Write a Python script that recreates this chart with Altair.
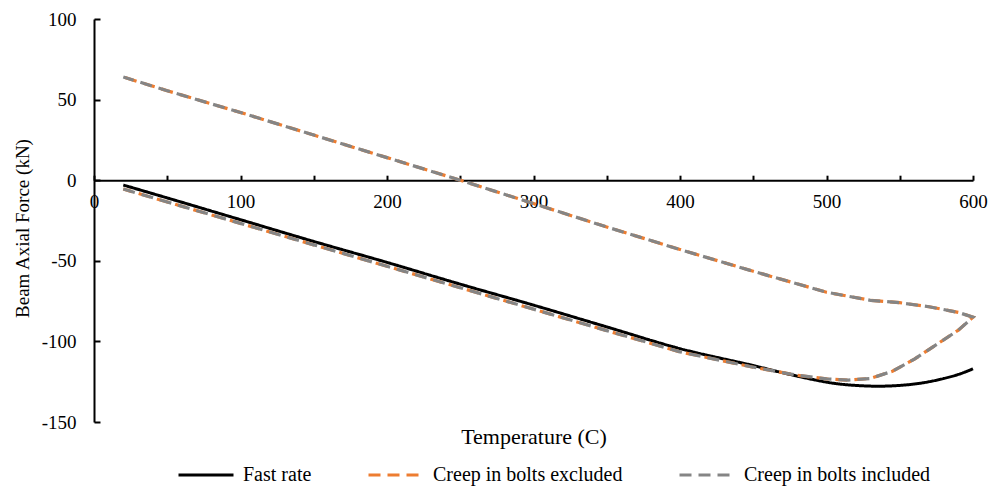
import altair as alt
import pandas as pd

# ---- data ----
fast_T = [20, 50, 100, 150, 200, 250, 300, 350, 400, 450, 475, 490, 505, 520, 535, 550, 565, 580, 590, 600]
fast_F = [-3, -11, -24.5, -38, -51, -64.5, -77.5, -91, -104.5, -115, -120.5, -123.5, -126, -127.3, -127.8, -127.3,
          -125.8, -123, -120.5, -117]

# creep runs: heating 20 -> 600, then cooling 600 -> 20
creep_T = [20, 50, 100, 150, 200, 250, 300, 350, 400, 450, 480, 500, 515, 530, 545, 560, 575, 590, 600,
           590, 570, 550, 530, 515, 500, 450, 400, 350, 300, 250, 200, 150, 100, 50, 20]
excl_F = [-5.5, -13.5, -26.8, -40.1, -53.4, -66.7, -80, -93.3, -106.5, -116, -121, -123.3, -124, -123, -118.5, -111,
          -102, -93, -85,
          -82, -78.5, -76, -74.5, -72, -69.5, -56.5, -43, -29, -14.5, 0, 14, 28, 42, 55.5, 64]
incl_F = [-5.5, -13.5, -26.8, -40.1, -53.4, -66.7, -80, -93.3, -106.5, -116, -121, -123.3, -124, -123, -118.5, -111,
          -102, -93, -85,
          -82, -78.5, -76, -74.5, -72, -69.5, -56.5, -43, -29, -14.5, 0, 14, 28, 42, 55.5, 64]

series_names = ["Fast rate", "Creep in bolts excluded", "Creep in bolts included"]
series_colors = ["#000000", "#ED7D31", "#858585"]
series_dash = [[1, 0], [12, 7], [12, 7]]

x_label_values = [0, 100, 200, 300, 400, 500, 600]
x_tick_values = [0, 50, 100, 150, 200, 250, 300, 350, 400, 450, 500, 550, 600]
y_values = [-150, -100, -50, 0, 50, 100]

rows = []
for i, (t, f) in enumerate(zip(fast_T, fast_F)):
    rows.append({"series": series_names[0], "T": t, "F": f, "idx": i})
for i, (t, f) in enumerate(zip(creep_T, excl_F)):
    rows.append({"series": series_names[1], "T": t, "F": f, "idx": i})
for i, (t, f) in enumerate(zip(creep_T, incl_F)):
    rows.append({"series": series_names[2], "T": t, "F": f, "idx": i})
df = pd.DataFrame(rows)

W, H = 879, 403
FONT = "Liberation Serif"
zero_from_top = H * 100 / 250.0
hyphen_label = "datum.value < 0 ? '-' + abs(datum.value) : '' + datum.value"

xscale = alt.Scale(domain=[0, 600], nice=False, zero=False)
yscale = alt.Scale(domain=[-150, 100], nice=False, zero=False)
color = alt.Color("series:N", scale=alt.Scale(domain=series_names, range=series_colors),
                  legend=alt.Legend(title=None, orient="none", direction="horizontal",
                                    legendX=83, legendY=427, symbolType="stroke",
                                    symbolSize=3025, symbolStrokeWidth=3, labelFont=FONT,
                                    labelFontSize=20, labelColor="#000000", labelOffset=8,
                                    columnPadding=50, padding=0, labelLimit=400))
dash = alt.StrokeDash("series:N", scale=alt.Scale(domain=series_names, range=series_dash), legend=None)

base = alt.Chart(df)

# main axes: bottom x axis moved up to y = 0, left y axis
x_main = alt.X("T:Q", scale=xscale, axis=alt.Axis(
    orient="bottom", offset=-(H - zero_from_top), values=x_label_values, labelExpr=hyphen_label,
    ticks=False, tickSize=0, domain=True, domainColor="#000000", domainWidth=2,
    grid=False, labelFont=FONT, labelFontSize=19, labelColor="#000000", labelPadding=12,
    labelBaseline="top", labelFlush=False,
    title="Temperature (C)", titleFont=FONT, titleFontSize=22, titleFontWeight="normal",
    titleColor="#000000", titleBaseline="alphabetic", titleY=263))
y_main = alt.Y("F:Q", scale=yscale, axis=alt.Axis(
    orient="left", values=y_values, labelExpr=hyphen_label, ticks=False, tickSize=0,
    domain=True, domainColor="#000000", domainWidth=2, grid=False,
    labelFont=FONT, labelFontSize=19, labelColor="#000000", labelPadding=18,
    title="Beam Axial Force (kN)", titleFont=FONT, titleFontSize=19, titleFontWeight="normal",
    titleColor="#000000", titleBaseline="alphabetic", titleX=-66, titleY=209, titleAngle=-90,
    titleAlign="center"))

# tick-only axes (ticks pointing inward)
x_ticks = alt.X("T:Q", scale=xscale, axis=alt.Axis(
    orient="top", offset=-zero_from_top, values=x_tick_values, ticks=True, tickSize=5,
    tickWidth=2, tickColor="#000000", labels=False, domain=False, grid=False, title=None))
y_ticks = alt.Y("F:Q", scale=yscale, axis=alt.Axis(
    orient="right", offset=-W, values=y_values, ticks=True, tickSize=6,
    tickWidth=2, tickColor="#000000", labels=False, domain=False, grid=False, title=None))

black = base.transform_filter(alt.datum.series == series_names[0]).mark_line(
    strokeWidth=3, interpolate="monotone").encode(
    x=x_main, y=y_main, color=color, strokeDash=dash, order="idx:Q")
orange = base.transform_filter(alt.datum.series == series_names[1]).mark_line(
    strokeWidth=3.2, strokeDashOffset=3).encode(
    x=x_ticks, y=y_ticks, color=color, strokeDash=dash, order="idx:Q")
gray = base.transform_filter(alt.datum.series == series_names[2]).mark_line(
    strokeWidth=3.2).encode(
    x=alt.X("T:Q", scale=xscale, axis=None), y=alt.Y("F:Q", scale=yscale, axis=None),
    color=color, strokeDash=dash, order="idx:Q")

chart = alt.layer(black, orange, gray).resolve_axis(x="independent", y="independent").properties(
    width=W, height=H,
    autosize=alt.AutoSizeParams(type="none"),
    padding={"left": 94, "top": 19, "right": 20, "bottom": 64},
    background="#ffffff",
).configure(font=FONT).configure_axis(labelFont=FONT, titleFont=FONT).configure_legend(
    labelFont=FONT).configure_view(stroke=None)

chart.save("out.html", embed_options={"renderer": "svg", "actions": False})
